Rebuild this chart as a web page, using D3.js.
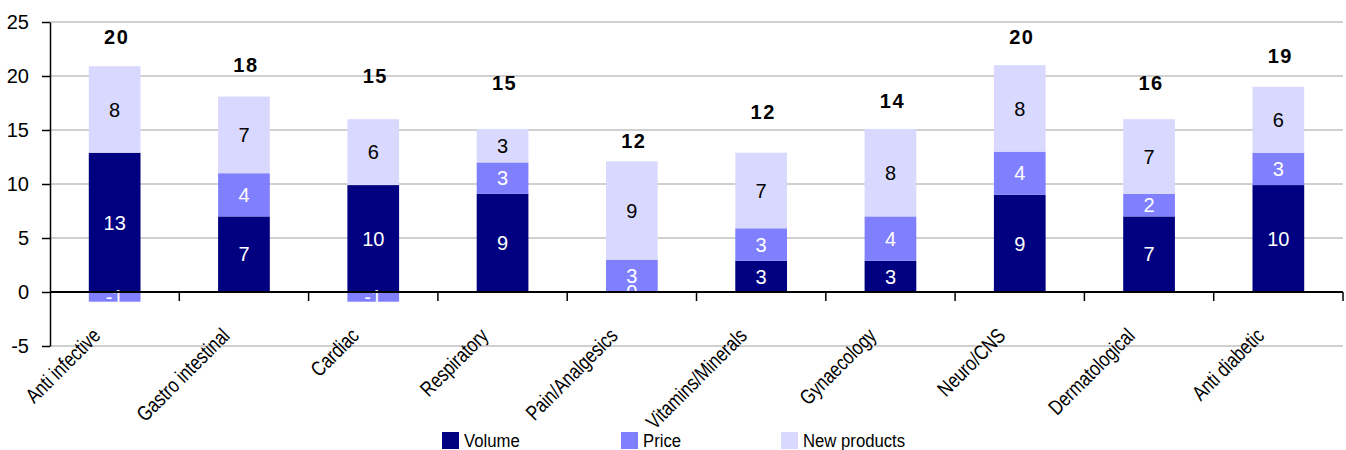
<!DOCTYPE html>
<html lang="en">
<head>
  <meta charset="utf-8">
  <script src="https://d3js.org/d3.v7.min.js"></script>
  <style>
    body { margin: 0; background: #fff; }
    svg text { font-family: "Liberation Sans", Arial, sans-serif; }
    .cat { font-size: 21px; }
    .legend text { font-size: 19px; }
    .val { font-size: 20px; }
    .total { font-size: 20px; font-weight: bold; letter-spacing: 1.5px; }
  </style>
</head>
<body>
<script>
  // categories and series
  var categories = ["Anti infective", "Gastro intestinal", "Cardiac", "Respiratory", "Pain/Analgesics",
                    "Vitamins/Minerals", "Gynaecology", "Neuro/CNS", "Dermatological", "Anti diabetic"];
  var volume      = [12.9, 7.0, 9.9, 9.1, 0.0, 2.9, 2.9, 9.0, 7.0, 9.9];
  var price       = [-0.9, 4.0, -0.9, 2.9, 3.0, 3.0, 4.1, 4.0, 2.1, 3.0];
  var newProducts = [8.0, 7.1, 6.1, 3.1, 9.1, 7.0, 8.1, 8.0, 6.9, 6.1];
  // totals printed above the bars, and the axis level where each one sits
  var totals          = [20, 18, 15, 15, 12, 12, 14, 20, 16, 19];
  var totalLabelLevel = [23.6, 21.0, 20.0, 19.4, 14.0, 16.7, 17.7, 23.6, 19.4, 21.9];
  var yTicks = [-5, 0, 5, 10, 15, 20, 25];

  var seriesNames  = ["Volume", "Price", "New products"];
  var seriesColors = ["#000080", "#8080ff", "#d9d9ff"];
  var labelColors  = ["#fff", "#fff", "#000"];
  var seriesValues = [volume, price, newProducts];

  var W = 1346, H = 450;
  var svg = d3.select("body").append("svg").attr("width", W).attr("height", H);

  var x = d3.scaleBand().domain(categories).range([50, 1343]).paddingInner(0.6).paddingOuter(0.3);
  var y = d3.scaleLinear().domain([-5, 25]).range([346, 22]);

  // gridlines
  svg.append("g").selectAll("line")
    .data(yTicks.filter(function(t) { return t != 0; }))
    .enter().append("line")
    .attr("x1", 50).attr("x2", 1343)
    .attr("y1", function(d) { return y(d); }).attr("y2", function(d) { return y(d); })
    .attr("stroke", "#c0c0c0").attr("stroke-width", 1.5);

  // stack the segments: positives upward, negatives downward (like excel)
  var segs = [];
  categories.forEach(function(c, i) {
    var pos = 0, neg = 0;
    seriesValues.forEach(function(vals, s) {
      var v = vals[i], y0, y1;
      if (v >= 0) { y0 = pos; y1 = pos + v; pos = y1; }
      else { y0 = neg; y1 = neg + v; neg = y1; }
      segs.push({cat: c, s: s, v: v, y0: y0, y1: y1});
    });
  });

  svg.append("g").selectAll("rect")
    .data(segs).enter().append("rect")
    .attr("x", function(d) { return x(d.cat); })
    .attr("width", x.bandwidth())
    .attr("y", function(d) { return y(Math.max(d.y0, d.y1)); })
    .attr("height", function(d) { return Math.abs(y(d.y0) - y(d.y1)); })
    .attr("fill", function(d) { return seriesColors[d.s]; });

  // value labels in the middle of each segment
  svg.append("g").selectAll("text")
    .data(segs).enter().append("text")
    .attr("class", "val")
    .attr("x", function(d) { return x(d.cat) + x.bandwidth() / 2; })
    .attr("y", function(d) { return y((d.y0 + d.y1) / 2); })
    .attr("dy", "0.36em")
    .attr("text-anchor", "middle")
    .attr("fill", function(d) { return labelColors[d.s]; })
    .text(function(d) { return String(Math.round(d.v)); });

  // totals
  svg.append("g").selectAll("text")
    .data(categories).enter().append("text")
    .attr("class", "total")
    .attr("x", function(d) { return x(d) + x.bandwidth() / 2 + 2; })
    .attr("y", function(d, i) { return y(totalLabelLevel[i]); })
    .attr("dy", "0.36em")
    .attr("text-anchor", "middle")
    .text(function(d, i) { return totals[i]; });

  // y axis
  var yAxis = svg.append("g").attr("transform", "translate(50,0)")
    .call(d3.axisLeft(y).tickValues(yTicks).tickSize(8).tickSizeOuter(0).tickPadding(13)
      .tickFormat(function(d) { return String(d); }));
  yAxis.selectAll("path, line").attr("stroke", "#000").attr("stroke-width", 1.5);
  yAxis.selectAll("text").attr("fill", "#000")
    .style("font-size", "20px").style("font-family", "'Liberation Sans', Arial, sans-serif");

  // zero line with category ticks hanging down
  var zero = svg.append("g").attr("transform", "translate(0," + y(0) + ")");
  zero.append("line").attr("x1", 50).attr("x2", 1343).attr("stroke", "#000").attr("stroke-width", 2);
  zero.selectAll(".ct").data(categories).enter().append("line")
    .attr("x1", function(d) { return x(d) - x.step() * x.paddingOuter() + x.step(); })
    .attr("x2", function(d) { return x(d) - x.step() * x.paddingOuter() + x.step(); })
    .attr("y1", 0).attr("y2", 9)
    .attr("stroke", "#000").attr("stroke-width", 1.5);

  // category labels, rotated and squeezed like a narrow font
  svg.append("g").selectAll("text")
    .data(categories).enter().append("text")
    .attr("class", "cat")
    .attr("text-anchor", "end")
    .attr("transform", function(d) { return "translate(" + (x(d) + x.bandwidth() / 2 - 13) + ",337) rotate(-45) scale(0.8,1)"; })
    .text(function(d) { return d; });

  // legend
  var legendX = [442, 621, 781];
  var lg = svg.append("g").attr("class", "legend").selectAll("g")
    .data(seriesNames).enter().append("g")
    .attr("transform", function(d, i) { return "translate(" + legendX[i] + ",432)"; });
  lg.append("rect").attr("width", 17).attr("height", 17).attr("fill", function(d, i) { return seriesColors[i]; });
  lg.append("text").attr("transform", "translate(22,15) scale(0.88,1)").text(function(d) { return d; });
</script>
</body>
</html>
